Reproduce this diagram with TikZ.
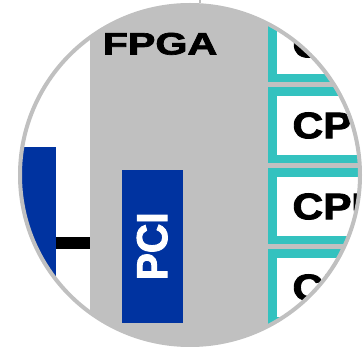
\documentclass[tikz,border=0pt]{standalone}
\usepackage{graphicx}
\usepackage{fontspec}
\newfontfamily\heavyfont[FakeBold=2.2]{Liberation Sans Bold}
\definecolor{hwblue}{RGB}{0,51,160}
\definecolor{hwgray}{RGB}{192,192,192}
\definecolor{hwteal}{RGB}{51,194,191}
\usetikzlibrary{positioning}
\tikzset{
  region/.style={fill=#1, inner sep=0pt, outer sep=0pt},
  cpubox/.style={draw=hwteal, line width=8.5pt, fill=white, anchor=west,
                 text width=110pt, inner xsep=20pt, inner ysep=0pt,
                 minimum height=67.5pt, align=left,
                 font=\heavyfont\fontsize{37}{37}\selectfont},
  bigtitle/.style={font=\heavyfont\fontsize{31}{31}\selectfont, inner sep=0pt},
  lens/.style={circle, draw=hwgray, line width=4pt, minimum size=340pt, inner sep=0pt},
}
% horizontally stretched text
\newcommand{\stretched}[2]{\scalebox{#1}[1]{#2}}

\begin{document}
\begin{tikzpicture}[x=1pt, y=-1pt]
\useasboundingbox (0,0) rectangle (364,347);
\fill[white] (0,0) rectangle (364,347);

\begin{scope}
\clip (190,175) circle (170pt);
% FPGA area, it runs on under the CPU column
\node[region=hwgray, minimum width=310pt, minimum height=400pt, anchor=north west] (fpga) at (90,-20) {};
\node[bigtitle, anchor=base west] (fpgalabel) at (102.5,54.5) {\stretched{1.33}{FPGA}};

% host side block and its link into the FPGA
\node[region=hwblue, minimum width=39pt, minimum height=192pt, anchor=north west] (host) at (17,147) {};
\draw[line width=12pt] (host.east) -- (host.east -| fpga.west);

% PCI core
\node[region=hwblue, minimum width=61pt, minimum height=152.7pt, anchor=north west,
      text=white, font=\heavyfont\fontsize{36}{36}\selectfont] (pci) at (121.7,170)
      {\rotatebox{90}{\scalebox{1.13}[1.2]{PCI}}};

% CPU column
\foreach \i in {1,...,4}
  \node[cpubox] (cpu\i) at (268.25,{44.5+81*(\i-1)}) {\stretched{1.15}{CPU}};
\end{scope}

% lens rim
\node[lens] (lens) at (190,175) {};
\coordinate (pintop) at (200,0);
\draw[hwgray, line width=1.2pt] (pintop) -- (pintop |- lens.north);
\end{tikzpicture}
\end{document}
